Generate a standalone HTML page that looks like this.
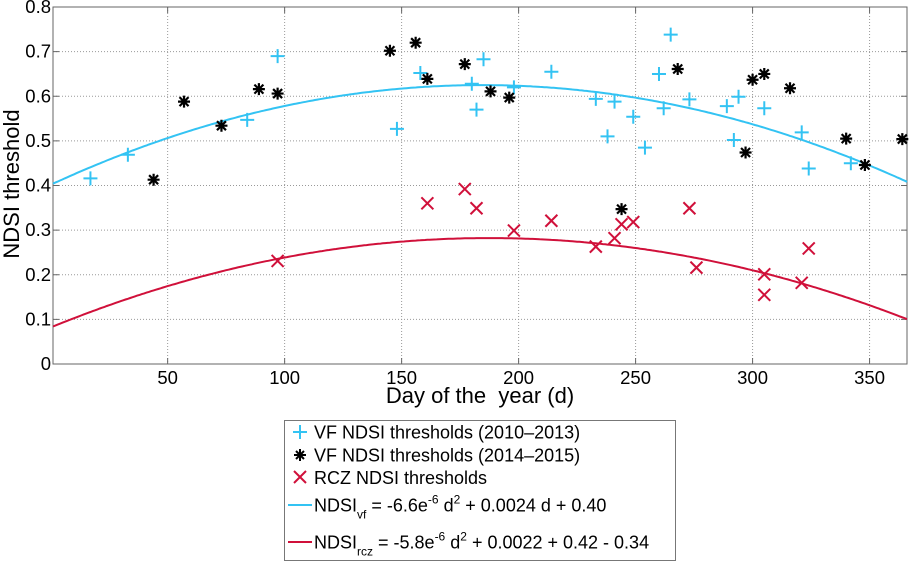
<!DOCTYPE html>
<html><head><meta charset="utf-8"><style>
html,body{margin:0;padding:0;background:#fff;}
svg{display:block;font-family:"Liberation Sans",Arial,sans-serif;}
</style></head><body>
<svg id="chart" width="910" height="562" viewBox="0 0 910 562" xmlns="http://www.w3.org/2000/svg">
<g id="grid"></g>
<g id="axes"></g>
<g id="curves"></g>
<g id="marks"></g>
<text x="0" y="0" transform="translate(19,184) rotate(-90)" text-anchor="middle" font-size="22">NDSI threshold</text>
<text x="480" y="403" text-anchor="middle" font-size="22">Day of the&#160; year (d)</text>
<g>
<rect x="284.5" y="420.5" width="391" height="140" fill="#fff" stroke="#777" stroke-width="1"/>
<g>
<path d="M293 432h14M300 425v14" stroke="#33c3f3" stroke-width="2"/>
<text x="314" y="438.5" font-size="18">VF NDSI thresholds (2010–2013)</text></g>
<g>
<path d="M294 455h12M300 449v12M296 451l8 8M304 451l-8 8" stroke="#000" stroke-width="2"/>
<text x="314" y="461.5" font-size="18">VF NDSI thresholds (2014–2015)</text></g>
<g>
<path d="M294 471l12 12M306 471l-12 12" stroke="#d0103a" stroke-width="2"/>
<text x="314" y="484" font-size="18">RCZ NDSI thresholds</text></g>
<g>
<path d="M288 505h24" stroke="#33c3f3" stroke-width="2"/>
<text x="314" y="511.5" font-size="18">NDSI<tspan font-size="12" dy="7">vf</tspan><tspan dy="-7"> = -6.6e</tspan><tspan font-size="12" dy="-8">-6</tspan><tspan dy="8"> d</tspan><tspan font-size="12" dy="-8">2</tspan><tspan dy="8"> + 0.0024 d + 0.40</tspan></text></g>
<g>
<path d="M288 542h24" stroke="#d0103a" stroke-width="2"/>
<text x="314" y="548.5" font-size="18">NDSI<tspan font-size="12" dy="7">rcz</tspan><tspan dy="-7"> = -5.8e</tspan><tspan font-size="12" dy="-8">-6</tspan><tspan dy="8"> d</tspan><tspan font-size="12" dy="-8">2</tspan><tspan dy="8"> + 0.0022 + 0.42 - 0.34</tspan></text></g>
</g>
</svg>
<script>
const xTicks=[50,100,150,200,250,300,350];
const yTicks=[0,0.1,0.2,0.3,0.4,0.5,0.6,0.7,0.8];
const yTickLabels=["0","0.1","0.2","0.3","0.4","0.5","0.6","0.7","0.8"];
const vfDays=[17,33,84,97,148,158,180,185,182,198,214,233,241,238,249,254,260,265,262,273,289,294,292,305,321,324,342];
const vfVals=[0.416,0.469,0.547,0.69,0.527,0.652,0.628,0.683,0.570,0.620,0.655,0.594,0.588,0.510,0.554,0.485,0.650,0.738,0.573,0.593,0.578,0.599,0.502,0.573,0.519,0.438,0.450];
const vf2Days=[44,57,73,89,97,145,156,161,177,188,196,244,268,297,300,305,316,340,348,364];
const vf2Vals=[0.413,0.588,0.534,0.616,0.606,0.702,0.720,0.639,0.672,0.611,0.597,0.347,0.661,0.474,0.637,0.650,0.618,0.505,0.446,0.504];
const rczDays=[97,161,177,182,198,214,233,241,244,249,273,276,305,305,321,324];
const rczVals=[0.231,0.360,0.392,0.349,0.299,0.321,0.263,0.282,0.313,0.318,0.349,0.216,0.201,0.155,0.182,0.259];
const vfCoef=[-6.57e-6,0.002423,0.4016];
const rczCoef=[-5.70e-6,0.002137,0.0819];

const NS="http://www.w3.org/2000/svg";
const L=53,R=907,T=7,B=364,X0=1,X1=366;
const sx=d=>L+(d-X0)/(X1-X0)*(R-L);
const sy=v=>B-v/0.8*(B-T);
function mk(tag,attrs,parent){const e=document.createElementNS(NS,tag);for(const k in attrs)e.setAttribute(k,attrs[k]);parent.appendChild(e);return e;}
const grid=document.getElementById('grid'),axes=document.getElementById('axes'),curves=document.getElementById('curves'),marks=document.getElementById('marks');
xTicks.forEach(t=>{const x=sx(t);
 const g=mk('line',{x1:x,x2:x,y1:T,y2:B,stroke:'#999','stroke-dasharray':'1,2','stroke-width':1},grid);
 
 
 const tk=mk('path',{d:`M${x} ${B}v-6M${x} ${T}v6`,stroke:'#666'},axes);
 
 
 const lb=mk('text',{x:x,y:384,'text-anchor':'middle','font-size':'18.5'},axes);lb.textContent=t;
 
 
});
yTicks.forEach((t,i)=>{const y=sy(t);
 if(i>0&&i<yTicks.length-1){const g=mk('line',{x1:L,x2:R,y1:y,y2:y,stroke:'#999','stroke-dasharray':'1,2','stroke-width':1},grid);
 
 }
 const tk=mk('path',{d:`M${L} ${y}h6M${R} ${y}h-6`,stroke:'#666'},axes);
 
 
 const lb=mk('text',{x:L-2,y:y+6,'text-anchor':'end','font-size':'18.5'},axes);lb.textContent=yTickLabels[i];
 
 
});
const frame=mk('rect',{x:L,y:T,width:R-L,height:B-T,fill:'none',stroke:'#666','stroke-width':1},axes);


function curve(c,color,name){let d='';for(let day=X0;day<=X1;day+=1){const v=c[0]*day*day+c[1]*day+c[2];d+=(d?'L':'M')+sx(day).toFixed(1)+' '+sy(v).toFixed(1);}
 const p=mk('path',{d:d,fill:'none',stroke:color,'stroke-width':2},curves);
 
 }
curve(vfCoef,'#33c3f3','vf-fit-curve');
curve(rczCoef,'#d0103a','rcz-fit-curve');
vfDays.forEach((d,i)=>{const x=sx(d),y=sy(vfVals[i]);
 const p=mk('path',{d:`M${x-7} ${y}h14M${x} ${y-7}v14`,stroke:'#33c3f3','stroke-width':2},marks);
 
 });
vf2Days.forEach((d,i)=>{const x=sx(d),y=sy(vf2Vals[i]);
 const p=mk('path',{d:`M${x-6} ${y}h12M${x} ${y-6}v12M${x-4.5} ${y-4.5}l9 9M${x+4.5} ${y-4.5}l-9 9`,stroke:'#000','stroke-width':2.2},marks);
 
 });
rczDays.forEach((d,i)=>{const x=sx(d),y=sy(rczVals[i]);
 const p=mk('path',{d:`M${x-6} ${y-6}l12 12M${x+6} ${y-6}l-12 12`,stroke:'#d0103a','stroke-width':2},marks);
 
 });
</script>
</body></html>
